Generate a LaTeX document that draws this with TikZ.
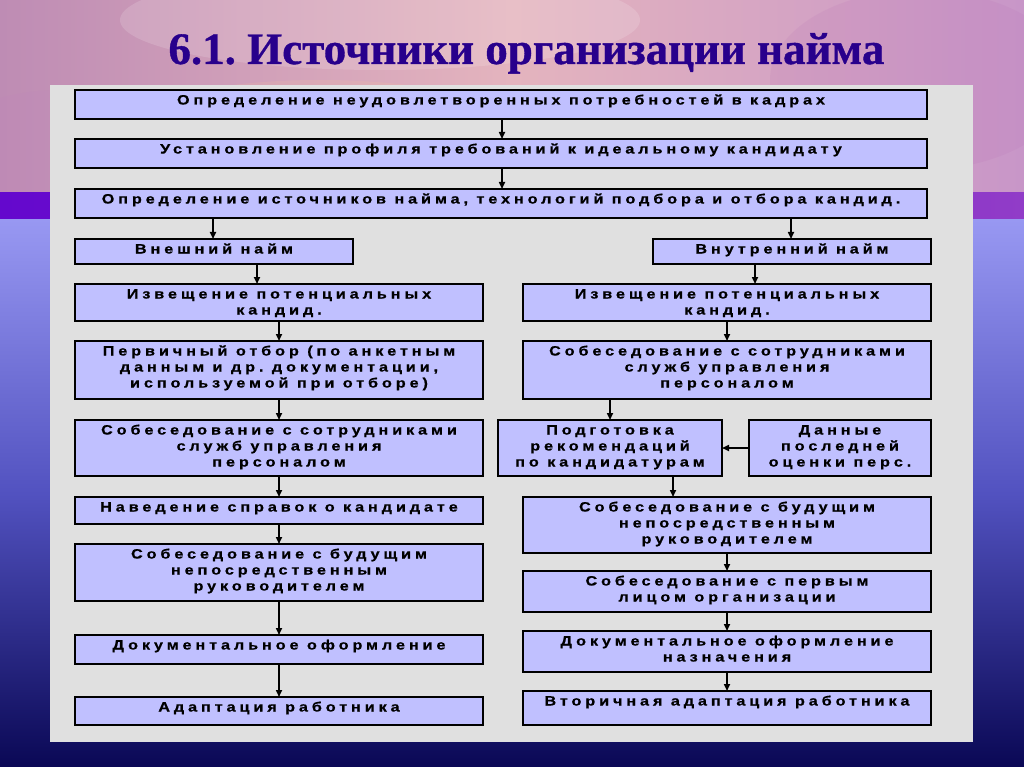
\documentclass[tikz,border=0pt]{standalone}
\usepackage{fontspec}
\usetikzlibrary{arrows.meta,shadows}
\newfontfamily\boxfont{Liberation Sans}[LetterSpace=29, FakeStretch=1.2, FakeBold=1.3, UprightFeatures={FakeBold=1.3}, BoldFeatures={FakeBold=0.7}]
\newfontfamily\titlefont{Liberation Serif}[FakeBold=0.8, UprightFeatures={FakeBold=0.8}]
\frenchspacing
\definecolor{boxfill}{RGB}{192,192,255}
\definecolor{panel}{RGB}{224,224,224}
\definecolor{titlecol}{RGB}{40,0,140}
\definecolor{bandL}{RGB}{100,8,205}
\definecolor{bandR}{RGB}{145,60,200}
\definecolor{lowTop}{RGB}{152,152,242}
\definecolor{lowMid}{RGB}{82,82,192}
\definecolor{lowBot}{RGB}{10,8,85}
\definecolor{skyL}{RGB}{190,140,180}
\definecolor{skyM}{RGB}{228,180,190}
\definecolor{skyR}{RGB}{200,150,200}
\tikzset{
  boxst/.style={draw=black, line width=1.4pt, fill=boxfill, inner sep=0pt, outer sep=0pt,
    drop shadow={shadow xshift=1pt, shadow yshift=-1pt, fill=black!75, opacity=1}},
  arr/.style={draw=black, line width=1.6pt, -{Triangle[length=7pt,width=6pt]}},
}
\newcommand\bx[6]{%
  \pgfmathsetmacro\bw{#4-#2}\pgfmathsetmacro\bh{#5-#3}%
  \node[boxst, minimum width=\bw pt, minimum height=\bh pt, anchor=north west] (#1) at (#2,#3)
    {\parbox[c][\bh pt][t]{\bw pt}{\centering\boxfont\bfseries\fontsize{13.5}{16}\selectfont\rule{0pt}{14.5pt}#6\par}};%
}
\begin{document}
\begin{tikzpicture}[x=1pt,y=-1pt]
\useasboundingbox (0,0) rectangle (1024,767);
% background
\shade[left color=skyL, right color=skyR, middle color=skyM] (0,0) rectangle (1024,194);
\fill[white, opacity=0.15] (380,20) ellipse (260 and 50);
\fill[orange!40, opacity=0.15] (320,130) ellipse (200 and 50);
\fill[violet!60, opacity=0.12] (920,80) ellipse (150 and 90);
\fill[violet!50, opacity=0.12] (60,150) ellipse (120 and 60);
\shade[left color=bandL, right color=bandR] (0,193) rectangle (1024,221);
\shade[top color=lowTop, bottom color=lowBot, middle color=lowMid] (0,220) rectangle (1024,767);
% panel
\fill[panel] (50,85) rectangle (973,742);
% title
\node[text=titlecol, font=\titlefont\bfseries\fontsize{45}{50}\selectfont, anchor=base] (title) at (526.5,64) {6.1. Источники организации найма};
% boxes
\bx{b1}{75}{90}{927}{119}{Определение неудовлетворенных потребностей в кадрах}
\bx{b2}{75}{139}{927}{168}{Установление профиля требований к идеальному кандидату}
\bx{b3}{75}{189}{927}{218}{Определение источников найма, технологий подбора и отбора кандид.}
\bx{bE}{75}{239}{353}{264}{Внешний найм}
\bx{bI}{653}{239}{931}{264}{Внутренний найм}
\bx{L1}{75}{284}{483}{321}{Извещение потенциальных\\кандид.}
\bx{L2}{75}{341}{483}{399}{Первичный отбор (по анкетным\\данным и др. документации,\\используемой при отборе)}
\bx{L3}{75}{420}{483}{476}{Собеседование с сотрудниками\\служб управления\\персоналом}
\bx{L4}{75}{497}{483}{524}{Наведение справок о кандидате}
\bx{L5}{75}{544}{483}{601}{Собеседование с будущим\\непосредственным\\руководителем}
\bx{L6}{75}{635}{483}{664}{Документальное оформление}
\bx{L7}{75}{697}{483}{725}{Адаптация работника}
\bx{R1}{523}{284}{931}{321}{Извещение потенциальных\\кандид.}
\bx{R2}{523}{341}{931}{399}{Собеседование с сотрудниками\\служб управления\\персоналом}
\bx{R3}{498}{420}{722}{476}{Подготовка\\рекомендаций\\по кандидатурам}
\bx{R4}{749}{420}{931}{476}{Данные\\последней\\оценки перс.}
\bx{R5}{523}{497}{931}{553}{Собеседование с будущим\\непосредственным\\руководителем}
\bx{R6}{523}{571}{931}{612}{Собеседование с первым\\лицом организации}
\bx{R7}{523}{631}{931}{672}{Документальное оформление\\назначения}
\bx{R8}{523}{691}{931}{725}{Вторичная адаптация работника}
% arrow columns
\coordinate (c502) at (502,0);
\coordinate (c213) at (213,0);
\coordinate (c791) at (791,0);
\coordinate (c257) at (257,0);
\coordinate (c279) at (279,0);
\coordinate (c755) at (755,0);
\coordinate (c727) at (727,0);
\coordinate (c610) at (610,0);
\coordinate (c673) at (673,0);
% arrows
\draw[arr] (b1.south -| c502) -- (b2.north -| c502);
\draw[arr] (b2.south -| c502) -- (b3.north -| c502);
\draw[arr] (b3.south -| c213) -- (bE.north -| c213);
\draw[arr] (b3.south -| c791) -- (bI.north -| c791);
\draw[arr] (bE.south -| c257) -- (L1.north -| c257);
\draw[arr] (L1.south -| c279) -- (L2.north -| c279);
\draw[arr] (L2.south -| c279) -- (L3.north -| c279);
\draw[arr] (L3.south -| c279) -- (L4.north -| c279);
\draw[arr] (L4.south -| c279) -- (L5.north -| c279);
\draw[arr] (L5.south -| c279) -- (L6.north -| c279);
\draw[arr] (L6.south -| c279) -- (L7.north -| c279);
\draw[arr] (bI.south -| c755) -- (R1.north -| c755);
\draw[arr] (R1.south -| c727) -- (R2.north -| c727);
\draw[arr] (R2.south -| c610) -- (R3.north -| c610);
\draw[arr] (R4.west) -- (R3.east);
\draw[arr] (R3.south -| c673) -- (R5.north -| c673);
\draw[arr] (R5.south -| c727) -- (R6.north -| c727);
\draw[arr] (R6.south -| c727) -- (R7.north -| c727);
\draw[arr] (R7.south -| c727) -- (R8.north -| c727);
\end{tikzpicture}
\end{document}
